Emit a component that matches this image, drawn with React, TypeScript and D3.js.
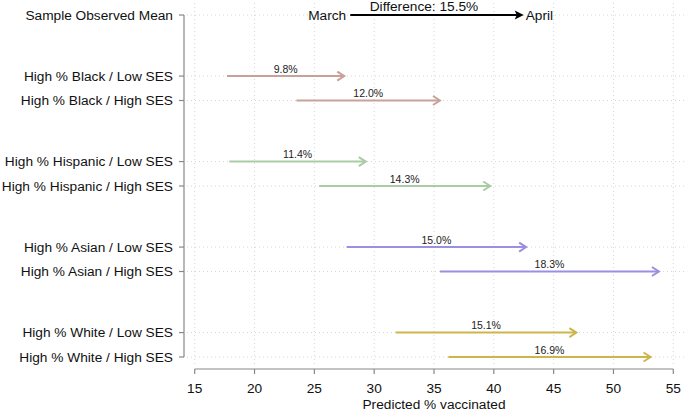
import React from 'react';
import * as d3 from 'd3';

// rows (top to bottom), grouped in pairs
const groups = ['Black', 'Hispanic', 'Asian', 'White'];
const sesLevels = ['Low SES', 'High SES'];
const groupColors = ['#c9a19b', '#a9cba5', '#9a8fe0', '#cdb54c'];

// predicted % vaccinated, March -> April, per group x SES
const marchValues = [17.7, 23.5, 17.9, 25.4, 27.7, 35.5, 31.8, 36.2];
const aprilValues = [27.5, 35.5, 29.3, 39.7, 42.7, 53.8, 46.9, 53.1];
const diffLabels = ['9.8%', '12.0%', '11.4%', '14.3%', '15.0%', '18.3%', '15.1%', '16.9%'];

// sample observed mean (legend arrow)
const sampleMarch = 28.0;
const sampleApril = 42.5;
const sampleDiffLabel = 'Difference: 15.5%';

const xTicks = [15, 20, 25, 30, 35, 40, 45, 50, 55];

const W = 685;
const H = 412;
const FONT = 'Liberation Sans, Arial, sans-serif';

export default function App() {
  const x = d3.scaleLinear().domain([15, 55]).range([194.7, 673.3]);
  const y = d3.scaleLinear().domain([0, 14]).range([15, 357]);
  const axisX = 184;
  const axisY = 369;

  const rows = groups.flatMap((g, gi) =>
    sesLevels.map((s, si) => {
      const i = gi * 2 + si;
      return {
        label: `High % ${g} / ${s}`,
        pos: 2.5 + gi * 3.5 + si,
        color: groupColors[gi],
        from: marchValues[i],
        to: aprilValues[i],
        diff: diffLabels[i],
      };
    })
  );

  const arrow = (x1: number, x2: number, yy: number, color: string, key: string) => (
    <g key={key}>
      <line x1={x1} x2={x2 - 1} y1={yy} y2={yy} stroke={color} strokeWidth={2} />
      <path
        d={`M${x2 - 7},${yy - 4.5}L${x2},${yy}L${x2 - 7},${yy + 4.5}`}
        fill="none"
        stroke={color}
        strokeWidth={2}
      />
    </g>
  );

  const sy = y(0);

  return (
    <svg width={W} height={H} style={{ position: 'absolute', left: 0, top: 0 }} fontFamily={FONT}>
      <rect width={W} height={H} fill="#fff" />
      {/* grid */}
      {xTicks.map(t => (
        <line key={'vg' + t} x1={x(t)} x2={x(t)} y1={3} y2={365} stroke="#d6d6d6" strokeDasharray="1,3" />
      ))}
      {[0, ...rows.map(r => r.pos)].map(p => (
        <line key={'hg' + p} x1={axisX + 3} x2={W} y1={y(p)} y2={y(p)} stroke="#d6d6d6" strokeDasharray="1,3" />
      ))}

      {/* y axis */}
      <line x1={axisX} x2={axisX} y1={y(0)} y2={y(14)} stroke="#888" strokeWidth={1.2} />
      {[0, ...rows.map(r => r.pos)].map(p => (
        <line key={'yt' + p} x1={axisX - 5} x2={axisX} y1={y(p)} y2={y(p)} stroke="#888" strokeWidth={1.2} />
      ))}
      <text x={173} y={sy} dy="0.35em" textAnchor="end" fontSize={13.7} fill="#111">
        Sample Observed Mean
      </text>
      {rows.map(r => (
        <text key={r.label} x={173} y={y(r.pos)} dy="0.35em" textAnchor="end" fontSize={13.7} fill="#111">
          {r.label}
        </text>
      ))}

      {/* x axis */}
      <line x1={x(15)} x2={x(55)} y1={axisY} y2={axisY} stroke="#888" strokeWidth={1.2} />
      {xTicks.map(t => (
        <g key={'xt' + t}>
          <line x1={x(t)} x2={x(t)} y1={axisY} y2={axisY + 5} stroke="#888" strokeWidth={1.2} />
          <text x={x(t)} y={axisY + 24} textAnchor="middle" fontSize={13.7} fill="#111">
            {t}
          </text>
        </g>
      ))}
      <text x={x(35)} y={409} textAnchor="middle" fontSize={13.7} fill="#111">
        Predicted % vaccinated
      </text>

      {/* arrows */}
      {rows.map(r => (
        <g key={'a' + r.label}>
          {arrow(x(r.from), x(r.to), y(r.pos), r.color, 'ar' + r.label)}
          <text
            x={(x(r.from) + x(r.to)) / 2}
            y={y(r.pos) - 3.5}
            textAnchor="middle"
            fontSize={10.5}
            fill="#222"
          >
            {r.diff}
          </text>
        </g>
      ))}

      {/* sample legend arrow */}
      <line x1={x(sampleMarch)} x2={x(sampleApril) - 6} y1={sy} y2={sy} stroke="#000" strokeWidth={2} />
      <path
        d={`M${x(sampleApril) - 9},${sy - 4.5}L${x(sampleApril)},${sy}L${x(sampleApril) - 9},${sy + 4.5}L${x(sampleApril) - 7},${sy}Z`}
        fill="#000"
      />
      <text x={x(sampleMarch) - 4} y={sy} dy="0.35em" textAnchor="end" fontSize={13.7} fill="#111">
        March
      </text>
      <text x={x(sampleApril) + 2} y={sy} dy="0.35em" textAnchor="start" fontSize={13.7} fill="#111">
        April
      </text>
      <text x={424} y={11} textAnchor="middle" fontSize={13.7} fill="#111">
        {sampleDiffLabel}
      </text>
    </svg>
  );
}
